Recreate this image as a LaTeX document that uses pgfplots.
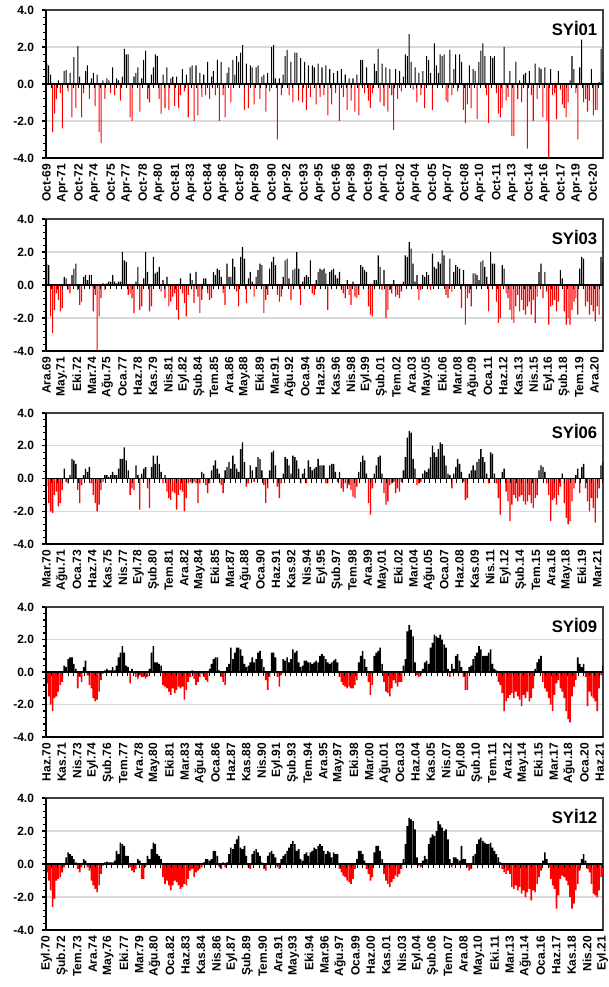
\documentclass[border=0pt]{standalone}
\usepackage{pgfplots}
\pgfplotsset{compat=1.18}
\usepackage{pgfplotstable}
\usepackage{fontspec}
\setmainfont{Liberation Sans}
\newcommand\lab{\bfseries\fontsize{9}{10}\selectfont}

\pgfplotstableread[row sep=\\]{y\\
1.1\\1.0\\0.5\\-2.6\\-1.6\\-0.8\\0.2\\-0.5\\-2.4\\0.7\\
0.75\\-0.4\\0.6\\-1.8\\1.45\\-1.3\\2.05\\0.4\\-1.8\\-0.5\\
0.7\\1.0\\-0.8\\0.3\\0.6\\-1.2\\0.5\\-2.6\\-3.2\\0.2\\
-0.8\\0.3\\0.2\\-0.5\\0.9\\-0.6\\0.3\\0.2\\-0.9\\0.4\\
1.9\\1.6\\1.6\\-1.8\\-2.0\\0.4\\0.6\\0.9\\-1.5\\0.3\\
1.3\\1.8\\-0.8\\-1.0\\0.5\\0.9\\1.6\\1.5\\-0.8\\-1.6\\
0.5\\-1.3\\0.9\\-1.4\\0.3\\0.4\\-1.2\\0.4\\-1.3\\-0.6\\
0.8\\-0.4\\0.5\\-1.8\\0.9\\1.0\\-2.0\\1.0\\-1.7\\0.6\\
-0.7\\0.5\\-0.6\\1.2\\-0.8\\0.4\\0.7\\-0.6\\1.3\\-2.0\\
1.2\\-0.6\\-1.8\\0.6\\0.9\\-1.0\\1.3\\0.5\\1.5\\1.2\\
1.7\\2.1\\-1.4\\1.1\\-1.3\\1.0\\0.9\\-1.1\\0.9\\1.0\\
-0.8\\0.4\\0.5\\-1.5\\0.6\\-0.4\\2.0\\2.1\\0.3\\-3.0\\
0.3\\-0.6\\0.5\\1.5\\1.85\\-0.6\\1.2\\-1.0\\1.7\\1.7\\
-0.9\\1.4\\-1.0\\1.2\\-1.4\\1.0\\-0.7\\1.0\\0.9\\-1.1\\
1.1\\-0.7\\0.9\\-0.6\\1.0\\-1.7\\0.8\\-1.1\\0.6\\-0.5\\
0.7\\-2.0\\0.8\\-0.7\\0.5\\-1.4\\0.3\\-0.9\\0.3\\-1.5\\
0.5\\-1.7\\1.3\\1.3\\-0.5\\0.9\\-0.9\\-1.3\\-0.5\\1.1\\
0.7\\1.9\\-1.0\\1.1\\-1.2\\0.9\\-1.5\\0.8\\-0.6\\-2.5\\
0.8\\-0.8\\0.7\\-0.4\\0.4\\1.6\\1.5\\2.7\\1.2\\-0.3\\
0.9\\-1.0\\0.6\\-0.6\\0.7\\-1.3\\1.5\\1.3\\0.6\\-1.4\\
2.2\\1.0\\0.6\\1.6\\1.5\\1.6\\-0.9\\-1.0\\1.85\\-0.6\\
0.8\\1.6\\-0.4\\1.6\\1.2\\-1.4\\-2.1\\-1.1\\1.0\\-1.3\\
0.8\\0.7\\-1.9\\1.2\\1.8\\2.2\\1.5\\-0.6\\-2.1\\1.5\\
1.4\\1.5\\-0.5\\-1.6\\-1.8\\-1.3\\2.0\\-0.9\\-0.7\\0.7\\
-2.8\\-2.8\\1.2\\-0.8\\0.2\\-1.0\\0.5\\0.6\\-3.5\\0.7\\
-0.6\\-2.0\\1.1\\-0.8\\0.9\\0.8\\-1.8\\0.9\\-2.0\\-4.0\\
0.8\\-0.6\\-0.5\\-1.9\\0.7\\-0.3\\-1.1\\-1.3\\-1.8\\-1.0\\
0.2\\1.5\\0.8\\-0.5\\-3.0\\0.9\\2.4\\-1.0\\-0.8\\-1.5\\
-0.9\\0.8\\-1.7\\-1.4\\-1.4\\0.1\\1.9\\0.6\\
}\tA

\pgfplotstableread[row sep=\\]{y\\
1.3\\1.2\\-1.9\\-2.9\\-1.5\\-0.5\\-0.9\\-1.6\\-1.4\\0.5\\
0.4\\-0.3\\-0.5\\0.6\\1.0\\1.3\\-0.3\\-1.2\\-1.0\\0.5\\
0.6\\0.3\\0.6\\0.6\\-1.6\\-0.6\\-4.0\\-1.9\\-0.8\\0.1\\
-0.3\\0.1\\0.2\\0.2\\0.6\\0.2\\0.1\\0.2\\0.2\\2.0\\
1.5\\1.4\\-0.6\\-0.5\\-0.8\\-1.7\\0.2\\1.1\\-1.5\\-1.3\\
0.4\\2.0\\0.8\\-1.6\\-1.3\\1.7\\0.7\\0.8\\1.1\\-0.4\\
0.3\\-0.8\\0.5\\-1.3\\-1.0\\-0.7\\-0.5\\-1.5\\-2.1\\0.4\\
-0.5\\-1.1\\-1.9\\-0.6\\0.7\\0.3\\-1.1\\0.8\\-0.7\\-1.7\\
-0.9\\0.4\\0.4\\-0.5\\-0.9\\-0.8\\0.8\\0.6\\1.0\\0.9\\
0.5\\-0.5\\-1.2\\1.3\\0.5\\0.5\\1.6\\1.1\\-0.4\\-1.3\\
1.7\\2.3\\1.6\\-1.1\\0.4\\0.8\\0.2\\-0.7\\0.5\\0.9\\
1.3\\1.2\\-1.7\\-0.9\\-0.6\\1.0\\1.4\\1.7\\1.2\\-0.6\\
-1.0\\-0.7\\0.5\\1.5\\1.6\\0.4\\-0.9\\0.9\\1.0\\2.0\\
1.0\\-1.2\\0.2\\0.5\\0.6\\0.5\\1.5\\-0.5\\-0.6\\0.3\\
0.8\\1.0\\0.9\\1.0\\0.7\\-1.5\\0.8\\0.9\\1.0\\0.6\\
0.4\\0.8\\-0.3\\-0.5\\-0.8\\0.3\\-0.6\\-1.2\\0.2\\-0.7\\
-0.8\\-0.6\\1.2\\1.1\\0.9\\0.8\\-1.3\\-1.8\\-1.9\\0.3\\
0.3\\1.8\\1.1\\-0.3\\0.9\\-2.0\\-1.5\\-0.3\\-0.5\\0.3\\
-0.7\\-0.6\\-0.8\\-0.4\\0.2\\1.8\\1.7\\2.6\\2.2\\1.3\\
0.2\\0.6\\-0.9\\-0.3\\0.6\\0.5\\0.8\\0.6\\-0.3\\1.9\\
1.1\\1.0\\1.4\\1.3\\2.1\\1.8\\-0.6\\-0.8\\1.6\\-0.4\\
0.8\\1.2\\1.1\\1.0\\-1.4\\0.9\\-2.4\\-0.8\\-0.5\\-1.3\\
0.7\\0.7\\0.6\\0.3\\1.4\\1.5\\1.1\\0.5\\-1.6\\2.0\\
1.3\\1.3\\-1.0\\-2.3\\-2.0\\1.2\\1.0\\-0.5\\-0.8\\-1.5\\
-2.1\\-2.3\\-1.3\\-0.6\\-1.6\\-0.9\\-1.5\\-1.8\\-1.3\\-1.0\\
-1.8\\-0.9\\-2.3\\-0.7\\0.8\\1.3\\-0.8\\0.8\\-0.4\\-2.4\\
-1.3\\-1.2\\-0.9\\-1.6\\-1.0\\0.9\\0.4\\-1.6\\-2.4\\-2.0\\
-2.4\\-1.5\\-1.0\\-0.8\\-1.8\\1.0\\1.7\\1.6\\-1.3\\-1.0\\
-1.8\\-1.2\\-1.6\\-2.2\\-1.3\\-1.8\\1.7\\1.4\\
}\tB

\pgfplotstableread[row sep=\\]{y\\
-0.5\\-1.5\\-2.0\\-2.1\\-1.0\\-0.8\\-1.7\\-1.5\\-0.7\\0.6\\
-0.2\\-0.3\\0.2\\1.2\\1.1\\0.9\\-0.7\\-1.5\\-0.4\\0.2\\
0.6\\0.4\\0.7\\-0.3\\-1.0\\-1.5\\-2.0\\-1.6\\-0.7\\-0.2\\
0.2\\0.2\\0.1\\0.2\\0.4\\0.2\\0.2\\0.6\\1.2\\1.2\\
1.9\\1.1\\0.5\\-1.0\\-0.6\\-0.7\\0.8\\0.2\\-1.9\\0.3\\
0.6\\0.7\\-0.6\\-1.8\\0.7\\1.4\\0.9\\1.4\\0.9\\0.4\\
-0.3\\0.2\\-0.8\\-1.2\\-1.3\\-0.8\\-0.9\\-1.9\\-1.0\\-0.7\\
-0.8\\-2.0\\-1.2\\-0.3\\-0.2\\-0.3\\-0.2\\-0.3\\-1.5\\-0.3\\
0.4\\0.3\\-0.4\\-0.9\\-0.3\\0.5\\0.8\\1.1\\0.6\\0.3\\
-0.4\\-0.9\\0.5\\0.7\\1.0\\0.6\\1.4\\0.9\\0.6\\0.4\\
1.8\\2.2\\1.0\\-0.5\\-0.3\\0.8\\0.5\\-0.2\\0.7\\1.3\\
1.2\\0.5\\-0.4\\-1.5\\-0.6\\0.5\\1.6\\1.7\\0.8\\-0.5\\
-1.2\\-0.3\\0.3\\1.3\\1.2\\0.8\\0.3\\1.4\\1.3\\1.1\\
0.6\\-0.3\\0.3\\0.6\\-0.3\\1.1\\0.7\\0.5\\0.6\\0.7\\
1.2\\0.8\\0.8\\0.8\\-0.3\\-0.3\\0.8\\0.9\\0.9\\0.4\\
-0.2\\0.4\\-0.6\\-0.8\\-0.3\\-0.6\\-0.4\\-0.7\\-1.1\\-1.2\\
-0.5\\0.4\\1.0\\1.4\\1.1\\0.3\\-1.5\\-2.2\\-0.6\\0.3\\
0.8\\1.3\\1.4\\0.3\\-0.9\\-1.6\\-1.4\\-0.4\\-0.3\\-0.2\\
-0.9\\-0.6\\-0.8\\-0.2\\0.5\\1.3\\2.5\\2.9\\2.8\\1.2\\
0.6\\-0.4\\-0.3\\-0.2\\0.3\\0.5\\0.4\\0.6\\1.3\\2.0\\
1.6\\1.3\\1.8\\2.2\\2.1\\1.4\\0.8\\0.3\\0.2\\-0.6\\
0.3\\0.7\\1.2\\0.9\\0.4\\-0.2\\-1.3\\-1.2\\0.3\\0.5\\
0.8\\0.5\\1.0\\1.2\\1.8\\1.3\\1.0\\0.3\\-0.3\\1.6\\
1.5\\0.3\\-0.3\\-1.2\\-2.2\\0.4\\0.6\\-0.8\\-1.4\\-2.6\\
-1.6\\-1.0\\-1.2\\-1.4\\-1.1\\-1.0\\-1.4\\-1.6\\-1.4\\-1.0\\
-1.5\\-1.8\\-1.2\\-1.0\\0.5\\0.8\\0.7\\0.4\\-0.3\\-1.0\\
-2.6\\-1.3\\-1.2\\-1.6\\-1.0\\-0.5\\0.3\\-1.5\\-2.4\\-2.8\\
-2.6\\-1.4\\-0.6\\0.2\\0.6\\-0.9\\0.7\\0.9\\-0.6\\-1.4\\
-2.0\\-1.2\\-1.8\\-2.7\\-1.2\\-0.6\\0.8\\1.0\\
}\tC

\pgfplotstableread[row sep=\\]{y\\
-0.7\\-1.5\\-2.0\\-2.4\\-1.6\\-1.5\\-1.2\\-0.8\\-0.6\\0.4\\
0.3\\0.8\\0.9\\0.9\\0.5\\0.2\\-1.0\\-0.3\\-0.6\\0.3\\
0.7\\-0.2\\-0.8\\-1.0\\-1.6\\-1.8\\-1.7\\-1.2\\-0.5\\-0.1\\
0.1\\0.2\\0.1\\0.1\\0.3\\0.1\\0.4\\0.9\\1.2\\1.6\\
1.2\\0.4\\0.3\\-0.7\\0.2\\-0.1\\-0.3\\-0.4\\-0.2\\-0.3\\
-0.3\\-0.4\\-0.3\\0.2\\1.2\\1.6\\0.6\\0.6\\0.5\\0.4\\
-0.8\\-0.9\\-1.0\\-1.2\\-1.4\\-1.0\\-1.3\\-1.1\\-0.9\\-1.0\\
-0.9\\-1.7\\-1.1\\-0.6\\-0.3\\0.1\\-0.4\\-0.8\\-0.6\\-0.3\\
-0.1\\-0.3\\-0.5\\-0.6\\0.2\\0.5\\0.8\\0.9\\0.9\\0.1\\
-0.3\\-0.6\\-0.8\\0.3\\0.5\\1.5\\0.8\\1.2\\1.5\\1.5\\
1.4\\1.0\\0.5\\0.3\\0.4\\0.6\\0.9\\0.6\\0.8\\1.2\\
1.3\\0.8\\0.3\\-0.5\\-1.1\\-0.3\\1.2\\1.2\\0.9\\-0.3\\
-0.9\\-0.2\\0.8\\0.7\\0.9\\0.6\\0.8\\1.4\\1.2\\1.3\\
0.6\\0.3\\0.4\\0.7\\0.7\\0.6\\0.6\\0.5\\0.6\\0.7\\
0.6\\1.0\\1.1\\1.0\\0.8\\0.6\\0.5\\0.6\\0.7\\0.8\\
0.6\\-0.3\\-0.6\\-0.8\\-0.9\\-1.0\\-0.9\\-1.0\\-1.0\\-0.8\\
-0.5\\0.6\\1.0\\1.3\\0.8\\0.3\\-0.6\\-1.4\\-0.8\\1.0\\
1.2\\1.3\\1.5\\0.5\\-0.6\\-1.2\\-1.3\\-1.5\\-1.0\\-0.5\\
-0.7\\-0.9\\-0.6\\-0.6\\0.4\\0.8\\2.5\\2.9\\2.6\\2.2\\
0.6\\-0.2\\-0.3\\-0.2\\0.2\\0.6\\0.7\\0.5\\1.5\\1.8\\
2.3\\2.2\\2.1\\2.3\\2.0\\1.7\\1.5\\0.2\\-0.3\\0.5\\
0.2\\1.0\\1.1\\0.7\\0.3\\-0.3\\-1.1\\-1.1\\0.3\\0.4\\
0.8\\1.0\\1.2\\1.6\\1.4\\1.0\\1.0\\1.0\\1.2\\1.4\\
0.5\\0.2\\0.1\\-0.6\\-0.8\\-1.3\\-2.4\\-1.8\\-1.6\\-1.4\\
-1.3\\-1.6\\-1.2\\-1.5\\-1.7\\-2.1\\-1.4\\-1.6\\-1.2\\-1.8\\
-1.6\\-1.0\\0.2\\0.6\\0.8\\1.0\\-0.6\\-1.0\\-1.2\\-1.6\\
-2.0\\-2.4\\-1.4\\-0.7\\-0.5\\-1.0\\-1.2\\-1.6\\-2.4\\-2.9\\
-3.1\\-1.5\\-0.9\\-0.5\\0.9\\0.5\\0.3\\0.5\\-0.3\\-2.1\\
-1.2\\-1.5\\-1.6\\-1.8\\-2.4\\-1.0\\-0.2\\0.4\\
}\tD

\pgfplotstableread[row sep=\\]{y\\
-0.5\\-1.0\\-1.6\\-2.6\\-2.1\\-1.0\\-0.9\\-0.8\\-0.5\\-0.2\\
0.4\\0.7\\0.6\\0.5\\0.3\\0.1\\-0.3\\-0.5\\-0.2\\0.3\\
0.2\\-0.2\\-0.4\\-1.0\\-1.3\\-1.5\\-1.7\\-1.3\\-0.6\\-0.1\\
0.1\\0.15\\0.1\\0.1\\0.1\\0.2\\0.8\\0.6\\1.3\\1.2\\
1.1\\0.5\\0.5\\-0.2\\-0.4\\-0.5\\-0.3\\0.3\\0.2\\-0.9\\
-0.9\\-0.2\\0.5\\0.3\\0.9\\1.3\\1.2\\0.6\\0.5\\0.3\\
-0.8\\-1.2\\-1.0\\-1.3\\-1.6\\-1.3\\-1.0\\-1.1\\-1.3\\-1.5\\
-1.4\\-1.2\\-1.3\\-0.9\\-0.4\\-0.3\\-0.8\\-0.5\\-0.4\\-0.3\\
-0.2\\0.1\\0.3\\0.3\\0.2\\0.3\\0.8\\0.8\\0.5\\-0.2\\
-0.3\\0.1\\-0.2\\0.1\\0.6\\1.0\\0.9\\1.2\\1.5\\1.7\\
1.0\\0.9\\1.1\\0.5\\-0.2\\-0.3\\0.6\\0.8\\0.9\\0.7\\
0.5\\0.1\\-0.3\\-0.4\\0.5\\0.7\\0.8\\0.6\\0.4\\-0.2\\
-0.3\\0.3\\0.5\\0.6\\0.8\\1.0\\1.2\\1.4\\1.2\\0.8\\
0.9\\0.3\\0.2\\0.6\\0.7\\0.5\\0.7\\0.8\\1.0\\0.9\\
1.1\\1.2\\1.1\\0.8\\0.6\\0.8\\0.7\\0.4\\0.7\\0.6\\
0.6\\-0.3\\-0.5\\-0.7\\-0.8\\-1.0\\-1.1\\-1.2\\-0.9\\-0.3\\
0.3\\0.8\\0.8\\0.6\\0.2\\-0.3\\-0.6\\-1.0\\-0.8\\0.7\\
1.1\\1.1\\0.8\\0.3\\-0.6\\-1.0\\-1.2\\-1.4\\-1.1\\-0.9\\
-0.7\\-0.8\\-0.6\\-0.3\\0.3\\1.2\\2.3\\2.8\\2.7\\2.6\\
2.1\\0.4\\-0.1\\-0.2\\0.2\\0.5\\0.3\\1.2\\1.6\\1.8\\
1.7\\2.0\\2.6\\2.4\\2.2\\2.0\\2.1\\1.5\\0.3\\-0.2\\
0.4\\0.4\\0.3\\0.2\\1.1\\0.3\\0.3\\-0.2\\-0.4\\-0.3\\
0.5\\0.6\\1.2\\1.5\\1.6\\1.4\\1.3\\1.2\\1.2\\1.3\\
1.0\\0.8\\0.6\\0.4\\0.1\\-0.3\\-0.5\\-0.6\\-0.4\\-0.6\\
-1.4\\-1.5\\-1.3\\-1.6\\-1.4\\-1.8\\-1.6\\-2.0\\-1.7\\-1.5\\
-2.2\\-1.6\\-1.7\\-1.2\\-0.8\\-0.4\\0.2\\0.7\\0.3\\-0.2\\
-0.9\\-1.3\\-1.5\\-2.7\\-1.9\\-0.9\\-0.7\\-0.8\\-1.0\\-1.3\\
-2.0\\-2.7\\-2.4\\-1.6\\-1.2\\-0.4\\0.3\\0.6\\0.2\\-0.3\\
-0.5\\-1.2\\-1.8\\-1.9\\-2.0\\-1.6\\-0.8\\-0.7\\
}\tE

\pgfplotsset{
  panel/.style={
    scale only axis, width=417.75pt, anchor=south west,
    xmin=-0.5, ymin=-4, ymax=4,
    ytick={-4,-2,0,2,4}, yticklabels={-4.0,-2.0,0.0,2.0,4.0},
    minor y tick num=4,
    ymajorgrids, major grid style={black!15, line width=0.8pt},
    axis line style={black!75, line width=0.8pt},
    tick align=outside, ytick pos=left,
    xtick style={draw=none},
    ytick style={black, line width=0.8pt},
    major tick length=3pt, minor tick length=2pt,
    xticklabel style={rotate=90, anchor=east, font=\lab, inner sep=1.5pt},
    yticklabel style={font=\lab, xshift=-2.5pt},
    after end axis/.code={
      \draw[black, line width=1.5pt] (rel axis cs:0,0) -- (rel axis cs:0,1);
      \draw[black, line width=1.2pt] (rel axis cs:0,0) -- (rel axis cs:1,0);
    },
  },
  zero/.style={
    scale only axis, width=417.75pt, anchor=south west,
    xmin=-0.5, ymin=-4, ymax=4,
    axis x line=middle, axis y line=none, ytick=\empty,
    x axis line style={-, black, line width=1.3pt},
    xticklabels={}, tick align=center, major tick length=3.2pt,
    xtick style={black, line width=0.7pt, yshift=-1.6pt},
  },
  posbar/.style={ybar, bar shift=0pt, fill=black, draw=none, restrict y to domain=0:5},
  negbar/.style={ybar, bar shift=0pt, fill=red, draw=none, restrict y to domain=-5:0},
}
\tikzset{sy/.style={anchor=north east, font=\bfseries\fontsize{12.5}{13}\selectfont, inner sep=0pt}}

\begin{document}
\begin{tikzpicture}
\useasboundingbox (0,0) rectangle (456pt,-740.25pt);
% ---------- SYI01
\begin{axis}[panel, at={(34.5pt,-118.5pt)}, height=111pt, xmax=623.5,
  xtick={0,18,...,612},
  xticklabels={Oct-69,Apr-71,Oct-72,Apr-74,Oct-75,Apr-77,Oct-78,Apr-80,Oct-81,Apr-83,Oct-84,Apr-86,Oct-87,Apr-89,Oct-90,Apr-92,Oct-93,Apr-95,Oct-96,Apr-98,Oct-99,Apr-01,Oct-02,Apr-04,Oct-05,Apr-07,Oct-08,Apr-10,Oct-11,Apr-13,Oct-14,Apr-16,Oct-17,Apr-19,Oct-20}]
\addplot[posbar, bar width=1.15] table[x expr={(2+5*\coordindex)*624/1437-0.5}, y=y]{\tA};
\addplot[negbar, bar width=1.15] table[x expr={(2+5*\coordindex)*624/1437-0.5}, y=y]{\tA};
\node[sy] at (rel axis cs:0.99,0.925) {SYİ01};
\end{axis}
\begin{axis}[zero, at={(34.5pt,-118.5pt)}, height=111pt, xmax=623.5, xtick={0,6,...,621}]
\end{axis}
% ---------- SYI03
\begin{axis}[panel, at={(34.5pt,-263.25pt)}, height=99pt, xmax=621.5,
  xtick={0,17,...,612},
  xticklabels={Ara.69,May.71,Eki.72,Mar.74,Ağu.75,Oca.77,Haz.78,Kas.79,Nis.81,Eyl.82,Şub.84,Tem.85,Ara.86,May.88,Eki.89,Mar.91,Ağu.92,Oca.94,Haz.95,Kas.96,Nis.98,Eyl.99,Şub.01,Tem.02,Ara.03,May.05,Eki.06,Mar.08,Ağu.09,Oca.11,Haz.12,Kas.13,Nis.15,Eyl.16,Şub.18,Tem.19,Ara.20}]
\addplot[posbar, bar width=1.3] table[x expr={(2+5*\coordindex)*622/1437-0.5}, y=y]{\tB};
\addplot[negbar, bar width=1.3] table[x expr={(2+5*\coordindex)*622/1437-0.5}, y=y]{\tB};
\node[sy] at (rel axis cs:0.99,0.915) {SYİ03};
\end{axis}
\begin{axis}[zero, at={(34.5pt,-263.25pt)}, height=99pt, xmax=621.5, xtick={0,6,...,621}]
\end{axis}
% ---------- SYI06
\begin{axis}[panel, at={(34.5pt,-408pt)}, height=98.25pt, xmax=618.5,
  xtick={0,17,...,612},
  xticklabels={Mar.70,Ağu.71,Oca.73,Haz.74,Kas.75,Nis.77,Eyl.78,Şub.80,Tem.81,Ara.82,May.84,Eki.85,Mar.87,Ağu.88,Oca.90,Haz.91,Kas.92,Nis.94,Eyl.95,Şub.97,Tem.98,Ara.99,May.01,Eki.02,Mar.04,Ağu.05,Oca.07,Haz.08,Kas.09,Nis.11,Eyl.12,Şub.14,Tem.15,Ara.16,May.18,Eki.19,Mar.21}]
\addplot[posbar, bar width=1.5] table[x expr={(2+5*\coordindex)*619/1437-0.5}, y=y]{\tC};
\addplot[negbar, bar width=1.5] table[x expr={(2+5*\coordindex)*619/1437-0.5}, y=y]{\tC};
\node[sy] at (rel axis cs:0.99,0.915) {SYİ06};
\end{axis}
\begin{axis}[zero, at={(34.5pt,-408pt)}, height=98.25pt, xmax=618.5, xtick={0,6,...,618}]
\end{axis}
% ---------- SYI09
\begin{axis}[panel, at={(34.5pt,-552.75pt)}, height=97.5pt, xmax=615.5,
  xtick={0,17,...,612},
  xticklabels={Haz.70,Kas.71,Nis.73,Eyl.74,Şub.76,Tem.77,Ara.78,May.80,Eki.81,Mar.83,Ağu.84,Oca.86,Haz.87,Kas.88,Nis.90,Eyl.91,Şub.93,Tem.94,Ara.95,May.97,Eki.98,Mar.00,Ağu.01,Oca.03,Haz.04,Kas.05,Nis.07,Eyl.08,Şub.10,Tem.11,Ara.12,May.14,Eki.15,Mar.17,Ağu.18,Oca.20,Haz.21}]
\addplot[posbar, bar width=1.8] table[x expr={(2+5*\coordindex)*616/1437-0.5}, y=y]{\tD};
\addplot[negbar, bar width=1.8] table[x expr={(2+5*\coordindex)*616/1437-0.5}, y=y]{\tD};
\node[sy] at (rel axis cs:0.99,0.915) {SYİ09};
\end{axis}
\begin{axis}[zero, at={(34.5pt,-552.75pt)}, height=97.5pt, xmax=615.5, xtick={0,6,...,615}]
\end{axis}
% ---------- SYI12
\begin{axis}[panel, at={(34.5pt,-697.5pt)}, height=99pt, xmax=612.5,
  xtick={0,17,...,612},
  xticklabels={Eyl.70,Şub.72,Tem.73,Ara.74,May.76,Eki.77,Mar.79,Ağu.80,Oca.82,Haz.83,Kas.84,Nis.86,Eyl.87,Şub.89,Tem.90,Ara.91,May.93,Eki.94,Mar.96,Ağu.97,Oca.99,Haz.00,Kas.01,Nis.03,Eyl.04,Şub.06,Tem.07,Ara.08,May.10,Eki.11,Mar.13,Ağu.14,Oca.16,Haz.17,Kas.18,Nis.20,Eyl.21}]
\addplot[posbar, bar width=1.8] table[x expr={(2+5*\coordindex)*613/1437-0.5}, y=y]{\tE};
\addplot[negbar, bar width=1.8] table[x expr={(2+5*\coordindex)*613/1437-0.5}, y=y]{\tE};
\node[sy] at (rel axis cs:0.99,0.915) {SYİ12};
\end{axis}
\begin{axis}[zero, at={(34.5pt,-697.5pt)}, height=99pt, xmax=612.5, xtick={0,6,...,612}]
\end{axis}
\end{tikzpicture}
\end{document}
